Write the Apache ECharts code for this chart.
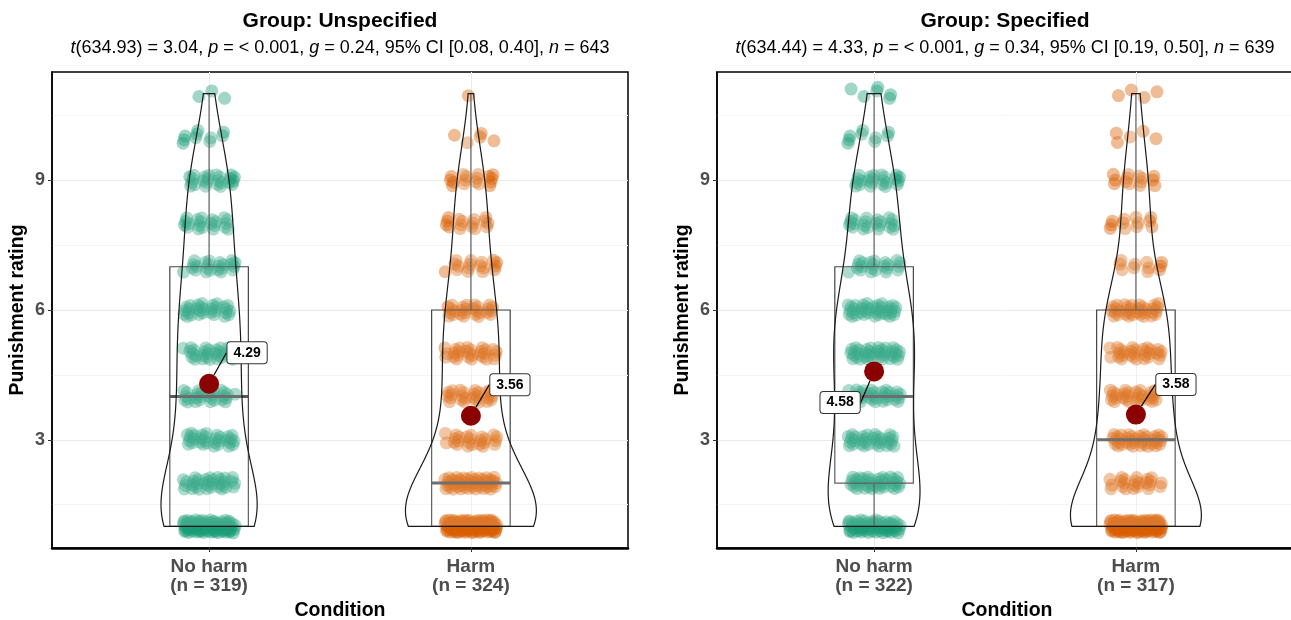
<!DOCTYPE html>
<html>
<head>
<meta charset="utf-8">
<script src="https://cdn.jsdelivr.net/npm/echarts@6.0.0/dist/echarts.min.js"></script>
<style>
  html, body { margin: 0; padding: 0; background: #fff; }
  #main { width: 1291px; height: 620px; }
</style>
</head>
<body>
<div id="main"></div>
<script>
// rating scale and groups
var levels = [1, 2, 3, 4, 5, 6, 7, 8, 9, 10, 11];
var conditions = ['No harm', 'Harm'];

var unspecNoHarm = [84, 34, 31, 28, 31, 30, 23, 21, 24, 10, 3];
var unspecHarm   = [113, 50, 24, 26, 28, 27, 17, 16, 17, 5, 1];
var specNoHarm   = [60, 40, 32, 32, 38, 38, 22, 22, 23, 9, 6];
var specHarm     = [118, 23, 38, 29, 29, 34, 11, 12, 14, 5, 4];

var panelTitles = ['Group: Unspecified', 'Group: Specified'];
var panelSubtitles = [
  '{i|t}(634.93) = 3.04, {i|p} = < 0.001, {i|g} = 0.24, 95% CI [0.08, 0.40], {i|n} = 643',
  '{i|t}(634.44) = 4.33, {i|p} = < 0.001, {i|g} = 0.34, 95% CI [0.19, 0.50], {i|n} = 639'
];
var yTicks = [3, 6, 9];
var yMinorBreaks = [1.5, 4.5, 7.5, 10.5];
var xTicks = [1, 2];

var FONT = '"Liberation Sans", Arial, Helvetica, sans-serif';
var pointColors = ['#1B9E77', '#D95F02'];
var JW = 0.1, JH = 0.15;           // jitter half-width / half-height (axis units)
var BW_ADJUST = 1.3;               // violin bandwidth multiplier
var R2A = 0.7548776662, R2B = 0.5698402910;

function frac(x) { return x - Math.floor(x); }

// box stats + gaussian density (bw.nrd0 * adjust)
function summarise(counts) {
  var vals = [];
  counts.forEach(function (c, i) { for (var k = 0; k < c; k++) vals.push(levels[i]); });
  var n = vals.length;
  var mean = vals.reduce(function (a, b) { return a + b; }, 0) / n;
  var q = function (p) {
    var h = (n - 1) * p, lo = Math.floor(h), hi = Math.min(lo + 1, n - 1);
    return vals[lo] + (h - lo) * (vals[hi] - vals[lo]);
  };
  var q1 = q(0.25), med = q(0.5), q3 = q(0.75), iqr = q3 - q1;
  var inside = vals.filter(function (v) { return v >= q1 - 1.5 * iqr && v <= q3 + 1.5 * iqr; });
  var sd = Math.sqrt(vals.reduce(function (a, v) { return a + (v - mean) * (v - mean); }, 0) / (n - 1));
  var bw = BW_ADJUST * 0.9 * Math.min(sd, iqr / 1.34) * Math.pow(n, -0.2);
  var ys = [], dens = [];
  var lo = vals[0], hi = vals[n - 1];
  for (var k = 0; k < 512; k++) {
    var y = lo + (hi - lo) * k / 511, d = 0;
    counts.forEach(function (c, i) { var z = (y - levels[i]) / bw; d += c * Math.exp(-0.5 * z * z); });
    ys.push(y);
    dens.push(d / (n * bw * Math.sqrt(2 * Math.PI)));
  }
  return { n: n, mean: mean, q1: q1, med: med, q3: q3,
           lo: inside[0], hi: inside[inside.length - 1], ys: ys, dens: dens };
}

function jitterPoints(counts, xc, g) {
  var pts = [], j = 0;
  counts.forEach(function (c, i) {
    for (var k = 0; k < c; k++) {
      j++;
      var u = frac(0.5 + j * R2A + g * 0.37), v = frac(0.5 + j * R2B + g * 0.21);
      pts.push([xc + (u - 0.5) * 2 * JW, levels[i] + (v - 0.5) * 2 * JH]);
    }
  });
  return pts;
}

var panels = [
  { counts: [unspecNoHarm, unspecHarm], left: 52, tagOffsets: [[38, -31], [39, -31]] },
  { counts: [specNoHarm, specHarm], left: 717, tagOffsets: [[-34, 31], [40, -30]] }
];
var gridTop = 72, gridW = 576, gridH = 476;

var grids = [], xAxes = [], yAxes = [], series = [], titles = [];

panels.forEach(function (pn, p) {
  var st = pn.counts.map(summarise);
  var maxD = Math.max.apply(null, st.map(function (s) { return Math.max.apply(null, s.dens); }));
  var xa = p, ya = p * 2;
  var cx = pn.left + gridW / 2;

  titles.push({
    text: panelTitles[p], left: cx, top: 11, textAlign: 'center', padding: 0,
    textStyle: { fontFamily: FONT, fontSize: 21, fontWeight: 'bold', color: '#000' }
  });
  titles.push({
    text: panelSubtitles[p], left: cx, top: 39, textAlign: 'center', padding: 0,
    textStyle: { fontFamily: FONT, fontSize: 18, fontWeight: 'normal', color: '#000',
      rich: { i: { fontFamily: FONT, fontSize: 18, fontStyle: 'italic', color: '#000' } } }
  });

  grids.push({ left: pn.left, top: gridTop, width: gridW + (p === 1 ? 4 : 0), height: gridH,
    outerBoundsMode: 'none', containLabel: false,
    show: true, borderColor: '#000', borderWidth: 1.5, backgroundColor: 'transparent' });

  xAxes.push({
    gridIndex: p, type: 'value', min: 0.4, max: 2.6 + (p === 1 ? 4 / 262 : 0),
    name: 'Condition', nameLocation: 'middle', nameGap: 53,
    nameTextStyle: { fontFamily: FONT, fontSize: 19.5, fontWeight: 'bold', color: '#000' },
    axisLine: { show: true, onZero: false, lineStyle: { color: '#000', width: 2.5 } },
    axisTick: { show: true, customValues: xTicks, length: 4, lineStyle: { color: '#333' } },
    axisLabel: {
      customValues: xTicks, margin: 9, fontFamily: FONT, fontSize: 19, fontWeight: 'bold',
      color: '#4d4d4d', lineHeight: 19.5,
      formatter: function (v) {
        var g = Math.round(v) - 1;
        return conditions[g] + '\n(n = ' + st[g].n + ')';
      }
    },
    splitLine: { show: true, lineStyle: { color: '#ebebeb', width: 1 } }
  });

  yAxes.push({
    gridIndex: p, type: 'value', min: 0.5, max: 11.5, position: 'left',
    name: 'Punishment rating', nameLocation: 'middle', nameGap: 24, nameRotate: 90,
    nameTextStyle: { fontFamily: FONT, fontSize: 19.5, fontWeight: 'bold', color: '#000' },
    axisLine: { show: true, lineStyle: { color: '#000', width: 1.5 } },
    axisTick: { show: true, customValues: yTicks, length: 4, lineStyle: { color: '#333' } },
    axisLabel: { customValues: yTicks, margin: 7, fontFamily: FONT, fontSize: 18,
      fontWeight: 'bold', color: '#4d4d4d' },
    splitLine: { show: true, lineStyle: { color: '#e9e9e9', width: 1 } }
  });
  yAxes.push({
    gridIndex: p, type: 'value', min: 0.5, max: 11.5, position: 'left',
    axisLine: { show: false }, axisLabel: { show: false },
    axisTick: { show: false, customValues: yMinorBreaks },
    splitLine: { show: true, lineStyle: { color: '#f4f4f4', width: 1 } }
  });

  // jittered raw points
  pn.counts.forEach(function (c, g) {
    series.push({
      type: 'scatter', xAxisIndex: xa, yAxisIndex: ya, z: 2, silent: true,
      symbolSize: 13, itemStyle: { color: pointColors[g], opacity: 0.42 },
      data: jitterPoints(c, g + 1, g)
    });
  });

  // boxplots
  series.push({
    type: 'custom', xAxisIndex: xa, yAxisIndex: ya, z: 3, silent: true,
    data: st.map(function (s, g) { return [g + 1, s.med]; }),
    renderItem: function (params, api) {
      var s = st[params.dataIndex], x0 = params.dataIndex + 1, hw = 0.15;
      var a = api.coord([x0 - hw, s.q3]), b = api.coord([x0 + hw, s.q1]);
      var m1 = api.coord([x0 - hw, s.med]), m2 = api.coord([x0 + hw, s.med]);
      var t1 = api.coord([x0, s.q3]), t2 = api.coord([x0, s.hi]);
      var b1 = api.coord([x0, s.q1]), b2 = api.coord([x0, s.lo]);
      var line = { stroke: '#444', lineWidth: 1.2 };
      return { type: 'group', children: [
        { type: 'line', shape: { x1: t1[0], y1: t1[1], x2: t2[0], y2: t2[1] }, style: line },
        { type: 'line', shape: { x1: b1[0], y1: b1[1], x2: b2[0], y2: b2[1] }, style: line },
        { type: 'rect', shape: { x: a[0], y: a[1], width: b[0] - a[0], height: b[1] - a[1] },
          style: { fill: 'none', stroke: '#444', lineWidth: 1.2 } },
        { type: 'line', shape: { x1: m1[0], y1: m1[1], x2: m2[0], y2: m2[1] },
          style: { stroke: '#555', lineWidth: 3 } }
      ] };
    }
  });

  // violins
  series.push({
    type: 'custom', xAxisIndex: xa, yAxisIndex: ya, z: 4, silent: true,
    data: st.map(function (s, g) { return [g + 1, s.med]; }),
    renderItem: function (params, api) {
      var s = st[params.dataIndex], x0 = params.dataIndex + 1;
      var right = [], left = [];
      s.ys.forEach(function (y, k) {
        var hw = s.dens[k] / maxD * 0.25;
        right.push(api.coord([x0 + hw, y]));
        left.push(api.coord([x0 - hw, y]));
      });
      return { type: 'polygon', shape: { points: right.concat(left.reverse()) },
        style: { fill: 'rgba(255,255,255,0.15)', stroke: '#1a1a1a', lineWidth: 1.2 } };
    }
  });

  // means with tags
  series.push({
    type: 'scatter', xAxisIndex: xa, yAxisIndex: ya, z: 6, silent: true,
    symbolSize: 20, itemStyle: { color: '#8B0000', opacity: 1 },
    data: st.map(function (s, g) { return [g + 1, s.mean]; }),
    label: {
      show: true, position: 'inside', fontFamily: FONT, fontSize: 14, fontWeight: 'bold', color: '#000',
      backgroundColor: '#fff', borderColor: '#333', borderWidth: 1, borderRadius: 3, padding: [4, 6, 3, 6],
      formatter: function (d) { return d.value[1].toFixed(2); }
    },
    labelLine: { show: true, lineStyle: { color: '#000', width: 1.2 } },
    labelLayout: function (params) {
      var o = pn.tagOffsets[params.dataIndex];
      return { dx: o[0], dy: o[1] };
    }
  });
});

var chart = echarts.init(document.getElementById('main'));
chart.setOption({
  animation: false,
  backgroundColor: '#fff',
  title: titles,
  grid: grids,
  xAxis: xAxes,
  yAxis: yAxes,
  series: series
});
</script>
</body>
</html>
